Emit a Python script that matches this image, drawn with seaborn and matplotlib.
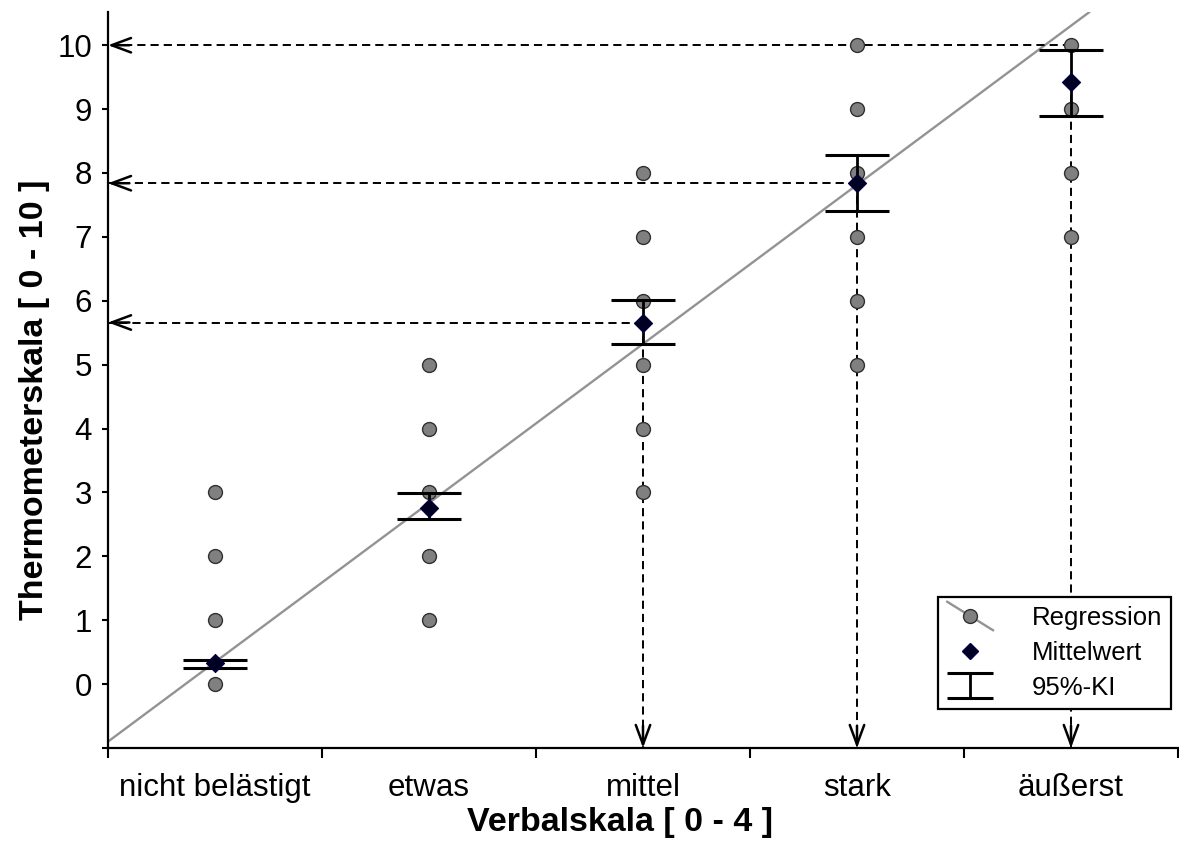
import numpy as np
import pandas as pd
import matplotlib
matplotlib.use("Agg")
import matplotlib.pyplot as plt
import seaborn as sns
from matplotlib.lines import Line2D
from matplotlib.legend_handler import HandlerBase

# ---------------- data ----------------
categories = ["nicht belästigt", "etwas", "mittel", "stark", "äußerst"]
ratings_nicht = [0, 1, 2, 3]
ratings_etwas = [1, 2, 3, 4, 5]
ratings_mittel = [3, 4, 5, 6, 7, 8]
ratings_stark = [5, 6, 7, 8, 9, 10]
ratings_aeusserst = [7, 8, 9, 10]

mean_values = [0.33, 2.76, 5.66, 7.84, 9.43]
ci_lower = [0.26, 2.58, 5.32, 7.40, 8.90]
ci_upper = [0.37, 2.99, 6.02, 8.28, 9.93]

reg_intercept = 0.345
reg_slope = 2.49

arrow_categories = [2, 3, 4]
arrow_levels = [5.66, 7.84, 10.0]
arrow_starts = [5.66, 7.84, 9.43]

y_ticks = list(range(0, 11))

legend_labels = ["Regression", "Mittelwert", "95%-KI"]
xlabel = "Verbalskala [ 0 - 4 ]"
ylabel = "Thermometerskala [ 0 - 10 ]"

# ---------------- frame ----------------
sns.set_theme(style="white")
plt.rcParams["font.family"] = ["Liberation Sans", "DejaVu Sans"]

W, H = 1179, 858
fig = plt.figure(figsize=(W / 100, H / 100), dpi=100)
ax = fig.add_axes([108 / W, 1 - 748 / H, (1178 - 108) / W, (748 - 12) / H])

all_ratings = [ratings_nicht, ratings_etwas, ratings_mittel, ratings_stark, ratings_aeusserst]
df = pd.DataFrame({
    "pos": [i for i, r in enumerate(all_ratings) for _ in r],
    "value": [v for r in all_ratings for v in r],
})
df_mean = pd.DataFrame({"pos": range(len(categories)), "mean": mean_values})

x_min, x_max = -0.5, len(categories) - 0.5
y_min, y_max = -1.0, 10.52
ax.set_xlim(x_min, x_max)
ax.set_ylim(y_min, y_max)

# regression line
ax.axline((0, reg_intercept), slope=reg_slope, color="#939393", lw=1.7, zorder=2)

# dashed arrows
dash = (0, (4.2, 2.6))
arrow_style = "->,head_length=0.7,head_width=0.26"
for c, lvl, st in zip(arrow_categories, arrow_levels, arrow_starts):
    ax.plot([c, x_min], [lvl, lvl], color="black", lw=1.4, linestyle=dash, zorder=2.5)
    ax.plot([c, c], [st, y_min], color="black", lw=1.4, linestyle=dash, zorder=2.5)
    ax.annotate("", xy=(x_min, lvl), xytext=(x_min + 0.1, lvl),
                arrowprops=dict(arrowstyle=arrow_style, lw=1.8,
                                color="black", shrinkA=0, shrinkB=0, mutation_scale=20),
                zorder=3)
    ax.annotate("", xy=(c, y_min), xytext=(c, y_min + 0.35),
                arrowprops=dict(arrowstyle=arrow_style, lw=1.8,
                                color="black", shrinkA=0, shrinkB=0, mutation_scale=20),
                zorder=3)

# scatter points
sns.scatterplot(data=df, x="pos", y="value", s=100, color="#808080",
                edgecolor="#303030", linewidth=1.0, ax=ax, zorder=3, legend=False)

# error bars (95% CI)
means = np.array(mean_values)
err = [means - np.array(ci_lower), np.array(ci_upper) - means]
ax.errorbar(range(len(categories)), means, yerr=err, fmt="none", ecolor="black",
            elinewidth=2.0, capsize=23, capthick=2.2, zorder=4)
# smaller proxy for the legend entry
eb_proxy = ax.errorbar([np.nan], [np.nan], yerr=[[np.nan], [np.nan]], fmt="none", ecolor="black",
                       elinewidth=2.0, capsize=16.5, capthick=2.2)

# means
sns.scatterplot(data=df_mean, x="pos", y="mean", marker="D", s=85, color="#000022",
                edgecolor="#000044", linewidth=0.8, ax=ax, zorder=5, legend=False)

# ---------------- axes styling ----------------
for s in ["top", "right"]:
    ax.spines[s].set_visible(False)
for s in ["left", "bottom"]:
    ax.spines[s].set_color("black")
    ax.spines[s].set_linewidth(1.6)

ax.set_xticks(np.arange(x_min, x_max + 0.01, 1.0))
ax.set_xticklabels([])
ax.set_xticks(range(len(categories)), minor=True)
ax.set_xticklabels(categories, minor=True, fontsize=22.5)
ax.tick_params(axis="x", which="major", direction="out", length=7, width=1.5, color="black", bottom=True)
ax.tick_params(axis="x", which="minor", length=0, pad=18, labelcolor="black", bottom=True)

ax.set_yticks([-1] + y_ticks)
ax.set_yticklabels([""] + [str(t) for t in y_ticks], fontsize=22.5)
ax.tick_params(axis="y", direction="out", length=4.5, width=1.5, color="black", pad=7, left=True,
               labelcolor="black")

ax.set_xlabel(xlabel, fontsize=24.5, fontweight="bold", color="black")
ax.set_ylabel(ylabel, fontsize=24.5, fontweight="bold", color="black")
ax.xaxis.set_label_coords((620 - 108) / (1178 - 108), -(822 - 748) / (748 - 12))
ax.yaxis.set_label_coords(-(108 - 35) / (1178 - 108), (748 - 400) / (748 - 12))
ax.xaxis.label.set_va("center")
ax.yaxis.label.set_va("center")


# ---------------- legend ----------------
class DiagHandler(HandlerBase):
    def create_artists(self, legend, orig_handle, xdescent, ydescent, width, height, fontsize, trans):
        x0, x1 = -xdescent, -xdescent + width
        y0, y1 = -ydescent - 0.3 * height, -ydescent + 1.3 * height
        line = Line2D([x0, x1], [y1, y0], color="#939393", lw=1.7, transform=trans)
        mk = Line2D([(x0 + x1) / 2], [(y0 + y1) / 2], marker="o", markersize=10,
                    markerfacecolor="#808080", markeredgecolor="#303030", markeredgewidth=1.0,
                    linestyle="none", transform=trans)
        return [line, mk]


reg_handle = Line2D([], [], color="#939393")
mean_handle = Line2D([], [], marker="D", linestyle="none", markersize=8.5,
                     markerfacecolor="#000022", markeredgecolor="#000044")
leg = ax.legend([reg_handle, mean_handle, eb_proxy], legend_labels,
                handler_map={reg_handle: DiagHandler()},
                loc="upper left", bbox_to_anchor=(938 / W, 1 - 597 / H),
                bbox_transform=fig.transFigure, borderaxespad=0,
                fontsize=18.5, frameon=True, fancybox=False, shadow=False,
                edgecolor="black", framealpha=1, handlelength=1.8, handletextpad=1.5,
                labelspacing=0.42, borderpad=0.35)
leg.get_frame().set_linewidth(1.6)
for t in leg.get_texts():
    t.set_color("black")

fig.savefig("out.png", dpi=100)
